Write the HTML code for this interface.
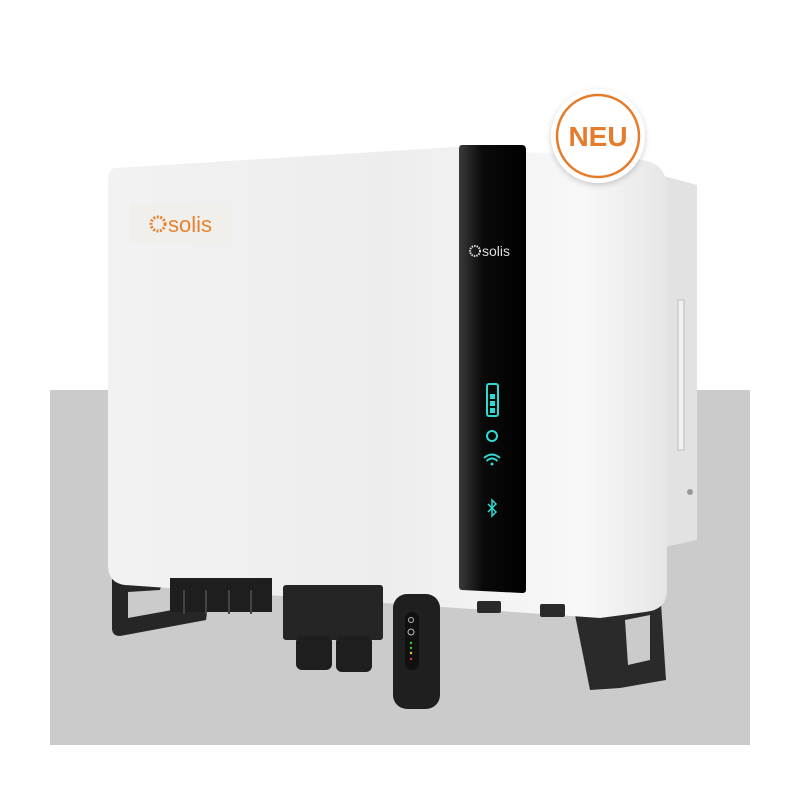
<!DOCTYPE html>
<html><head><meta charset="utf-8"><style>
html,body{margin:0;padding:0;background:#fff;width:800px;height:800px;overflow:hidden}
svg{display:block}
text{font-family:"Liberation Sans",sans-serif}
</style></head><body>
<svg width="800" height="800" viewBox="0 0 800 800" xmlns="http://www.w3.org/2000/svg">
<defs>
<linearGradient id="body" x1="0" y1="0" x2="1" y2="0">
<stop offset="0" stop-color="#f2f2f2"/><stop offset="0.5" stop-color="#ededed"/><stop offset="0.85" stop-color="#f8f8f8"/><stop offset="1" stop-color="#e6e6e6"/>
</linearGradient>
<linearGradient id="panel" x1="0" y1="0" x2="1" y2="0">
<stop offset="0" stop-color="#3a3a3a"/><stop offset="0.35" stop-color="#0a0a0a"/><stop offset="1" stop-color="#000"/>
</linearGradient>
<filter id="sh" x="-20%" y="-20%" width="140%" height="140%"><feDropShadow dx="0" dy="2" stdDeviation="3" flood-color="#000" flood-opacity="0.2"/></filter>
</defs>
<rect x="50" y="390" width="700" height="355" fill="#cbcbcb"/>
<!-- side panel -->
<path d="M660 175 L697 185 L697 540 L660 548 Z" fill="#e2e2e2"/>
<rect x="678" y="300" width="6" height="150" fill="#f2f2f2" stroke="#bdbdbd"/>
<circle cx="690" cy="492" r="3" fill="#999"/>
<!-- feet -->
<path d="M112 572 L165 572 L160 590 L128 592 L128 618 L200 605 L205 575 L212 575 L206 620 L120 636 Q112 636 112 628 Z" fill="#262626"/>
<path d="M572 600 L660 588 L666 680 L620 688 L590 690 Z" fill="#2a2a2a"/>
<path d="M625 620 L650 615 L650 660 L628 665 Z" fill="#cbcbcb"/>
<!-- body -->
<path d="M116 168 L455 147 L640 160 Q667 162 667 190 L667 590 Q667 610 645 612 L600 618 L125 585 Q108 583 108 565 L108 180 Q108 168 116 168 Z" fill="url(#body)"/>
<!-- panel -->
<path d="M462 145 L522 145 Q526 145 526 150 L526 590 Q526 593 522 593 L462 590 Q459 590 459 586 L459 149 Q459 145 462 145 Z" fill="url(#panel)"/>
<!-- left logo -->
<rect x="130" y="203" width="100" height="40" fill="#f1efec"/>
<circle cx="158" cy="224" r="7" fill="none" stroke="#e8822c" stroke-width="3" stroke-dasharray="2 1.5"/>
<text x="168" y="232" font-size="22" fill="#e8822c">solis</text>
<!-- panel logo -->
<circle cx="475" cy="251" r="5" fill="none" stroke="#ddd" stroke-width="2" stroke-dasharray="1.5 1"/>
<text x="482" y="256" font-size="14" fill="#ddd">solis</text>
<!-- icons -->
<rect x="487" y="384" width="11" height="32" rx="2" fill="none" stroke="#2fd8d0" stroke-width="2"/>
<rect x="490" y="394" width="5" height="5" fill="#2fd8d0"/><rect x="490" y="401" width="5" height="5" fill="#2fd8d0"/><rect x="490" y="408" width="5" height="5" fill="#2fd8d0"/>
<circle cx="492" cy="436" r="5" fill="none" stroke="#2fd8d0" stroke-width="2"/>
<path d="M484 458 Q492 451 500 458 M486.5 461 Q492 456 497.5 461" fill="none" stroke="#2fd8d0" stroke-width="2"/>
<circle cx="492" cy="464" r="1.5" fill="#2fd8d0"/>
<path d="M488 504 L496 512 L492 516 L492 500 L496 504 L488 512" fill="none" stroke="#2fd8d0" stroke-width="1.5"/>
<!-- connectors -->
<rect x="170" y="578" width="102" height="34" fill="#1e1e1e"/>
<rect x="183" y="590" width="2" height="24" fill="#444"/><rect x="205" y="590" width="2" height="24" fill="#444"/><rect x="228" y="590" width="2" height="24" fill="#444"/><rect x="250" y="590" width="2" height="24" fill="#444"/>
<rect x="283" y="585" width="100" height="55" rx="3" fill="#252525"/>
<rect x="296" y="636" width="36" height="34" rx="6" fill="#1e1e1e"/>
<rect x="336" y="636" width="36" height="36" rx="6" fill="#1e1e1e"/>
<rect x="477" y="601" width="24" height="12" rx="2" fill="#2a2a2a"/>
<rect x="540" y="604" width="25" height="13" rx="2" fill="#2a2a2a"/>
<!-- dongle -->
<rect x="393" y="594" width="47" height="115" rx="14" fill="#1f1f1f"/>
<rect x="405" y="612" width="14" height="58" rx="7" fill="#111"/>
<circle cx="411" cy="620" r="2.5" fill="none" stroke="#bbb"/>
<circle cx="411" cy="632" r="3" fill="none" stroke="#bbb"/>
<circle cx="411" cy="643" r="1.2" fill="#3c3"/><circle cx="411" cy="648" r="1.2" fill="#3c3"/><circle cx="411" cy="653" r="1.2" fill="#ec3"/><circle cx="411" cy="659" r="1.2" fill="#e33"/>
<!-- badge -->
<circle cx="598" cy="136" r="47" fill="#fff" filter="url(#sh)"/>
<circle cx="598" cy="136" r="41" fill="none" stroke="#e57c2c" stroke-width="2.5"/>
<text x="598" y="146" font-size="28" font-weight="bold" fill="#e57c2c" text-anchor="middle">NEU</text>
</svg>
</body></html>
